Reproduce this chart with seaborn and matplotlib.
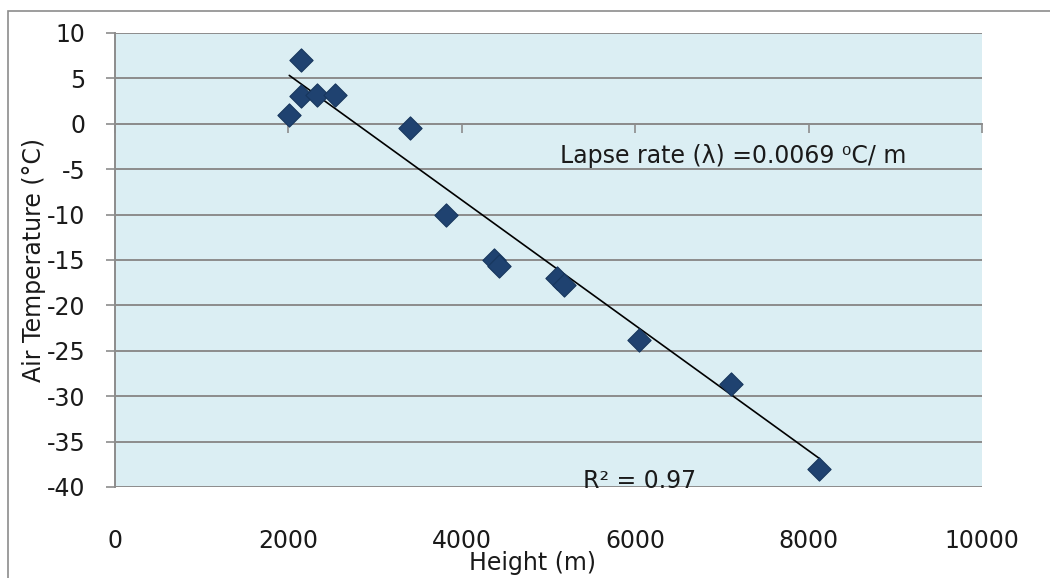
import numpy as np
import pandas as pd
import matplotlib
matplotlib.use("Agg")
import matplotlib.pyplot as plt
from matplotlib.patches import Rectangle
import seaborn as sns

# Observed air temperature against height
height_m = [2010, 2140, 2150, 2325, 2540, 3400, 3815, 4370, 4430, 5100, 5180, 6045, 7110, 8125]
air_temp_c = [1.0, 7.0, 3.1, 3.2, 3.2, -0.5, -10.0, -15.0, -15.7, -17.0, -17.7, -23.8, -28.7, -38.0]

# Linear trend: temperature falls 0.0069 °C per metre
trend_slope = -0.0069
trend_intercept = 19.2

x_ticks = [0, 2000, 4000, 6000, 8000, 10000]
y_ticks = [-40, -35, -30, -25, -20, -15, -10, -5, 0, 5, 10]

lapse_text = "Lapse rate (λ) =0.0069 ⁰C/ m"
r2_text = "R² = 0.97"

df = pd.DataFrame({"height": height_m, "temp": air_temp_c})
trend_x = [min(height_m), max(height_m)]
trend_df = pd.DataFrame({"height": trend_x,
                         "temp": [trend_intercept + trend_slope * h for h in trend_x]})

sns.set_theme(style="white")
plt.rcParams["font.family"] = ["DejaVu Sans"]

GRID = "#8C8C8C"
BG = "#DBEEF3"
MARK = "#1F4270"
TXT = "#1a1a1a"

fig = plt.figure(figsize=(10.5, 5.78), dpi=100)
ax = fig.add_axes([115 / 1050, 1 - 487 / 578, 867 / 1050, 454 / 578])
ax.set_facecolor(BG)

sns.lineplot(data=trend_df, x="height", y="temp", ax=ax, color="black", lw=1.2, zorder=3)
sns.scatterplot(data=df, x="height", y="temp", ax=ax, marker="D", s=140,
                color=MARK, edgecolor="#17365D", linewidth=0.8, zorder=4)

ax.set_xlim(0, 10000)
ax.set_ylim(-40, 10)
ax.set_xticks(x_ticks)
ax.set_yticks(y_ticks)
ax.set_xticklabels([str(v) for v in x_ticks])
ax.set_yticklabels([str(v) for v in y_ticks])

ax.grid(axis="y", color=GRID, lw=1.4, zorder=1)
ax.grid(axis="x", visible=False)
ax.set_axisbelow(True)

for side in ["top", "right", "bottom"]:
    ax.spines[side].set_visible(False)
ax.spines["left"].set_color(GRID)
ax.spines["left"].set_linewidth(1.4)

ax.tick_params(axis="y", left=True, direction="out", length=6.5, width=1.2,
               color=GRID, pad=15, labelsize=17, labelcolor=TXT)
ax.tick_params(axis="x", bottom=False, pad=24, labelsize=17, labelcolor=TXT)

# horizontal axis crossing at 0 °C, with its tick marks
sec = ax.secondary_xaxis(0, transform=ax.transData)
sec.set_alignment("bottom")
sec.set_xticks(x_ticks)
sec.tick_params(axis="x", direction="out", length=6.5, width=1.2, color=GRID,
                labelbottom=False)
sec.spines["bottom"].set_color(GRID)
sec.spines["bottom"].set_linewidth(1.4)

ax.set_xlabel("Height (m)", fontsize=17, color=TXT)
ax.set_ylabel("Air Temperature (°C)", fontsize=17, color=TXT)
ax.xaxis.set_label_coords(0.482, -0.167)
ax.xaxis.label.set_va("center")
ax.yaxis.set_label_coords(-0.093, 0.5)
ax.yaxis.label.set_va("center")

ax.text(5130, -3.6, lapse_text, fontsize=17, color=TXT, ha="left", va="center", zorder=5)
ax.text(5395, -39.3, r2_text, fontsize=17, color=TXT, ha="left", va="center", zorder=5)

# chart frame
fig.add_artist(Rectangle((8 / 1050, -0.1), 1.2, 1 - 11 / 578 + 0.1,
                         transform=fig.transFigure, fill=False,
                         edgecolor=GRID, lw=1.2))

fig.savefig("out.png", dpi=100)
